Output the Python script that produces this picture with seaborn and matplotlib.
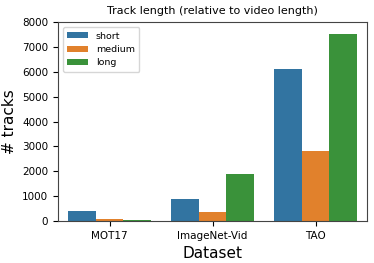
import matplotlib
matplotlib.use("Agg")
import matplotlib.pyplot as plt
import seaborn as sns
import pandas as pd

datasets = ["MOT17", "ImageNet-Vid", "TAO"]
lengths = ["short", "medium", "long"]
short_vals = [390, 895, 6110]
medium_vals = [70, 375, 2830]
long_vals = [55, 1900, 7540]

rows = []
for i, d in enumerate(datasets):
    for l, vals in zip(lengths, [short_vals, medium_vals, long_vals]):
        rows.append({"Dataset": d, "length": l, "tracks": vals[i]})
df = pd.DataFrame(rows)

plt.rcParams['font.family'] = ['DejaVu Sans']
fig, ax = plt.subplots(figsize=(3.74, 2.63), dpi=100)
sns.barplot(data=df, x="Dataset", y="tracks", hue="length", hue_order=lengths,
            order=datasets, palette="tab10", saturation=0.75, linewidth=0,
            width=0.8, gap=0, ax=ax, errorbar=None)
ax.set_ylim(0, 8000)
ax.set_title("Track length (relative to video length)", fontsize=8)
ax.set_xlabel("Dataset", fontsize=11)
ax.set_ylabel("# tracks", fontsize=11)
ax.tick_params(labelsize=7.5)
for s in ax.spines.values():
    s.set_color("#444444")
ax.legend(loc="upper left", fontsize=6.8, title=None, handlelength=2.2,
          handleheight=0.6, borderpad=0.5, labelspacing=0.45)
fig.subplots_adjust(left=0.155, right=0.982, top=0.915, bottom=0.16)
fig.savefig("out.png", dpi=100)
